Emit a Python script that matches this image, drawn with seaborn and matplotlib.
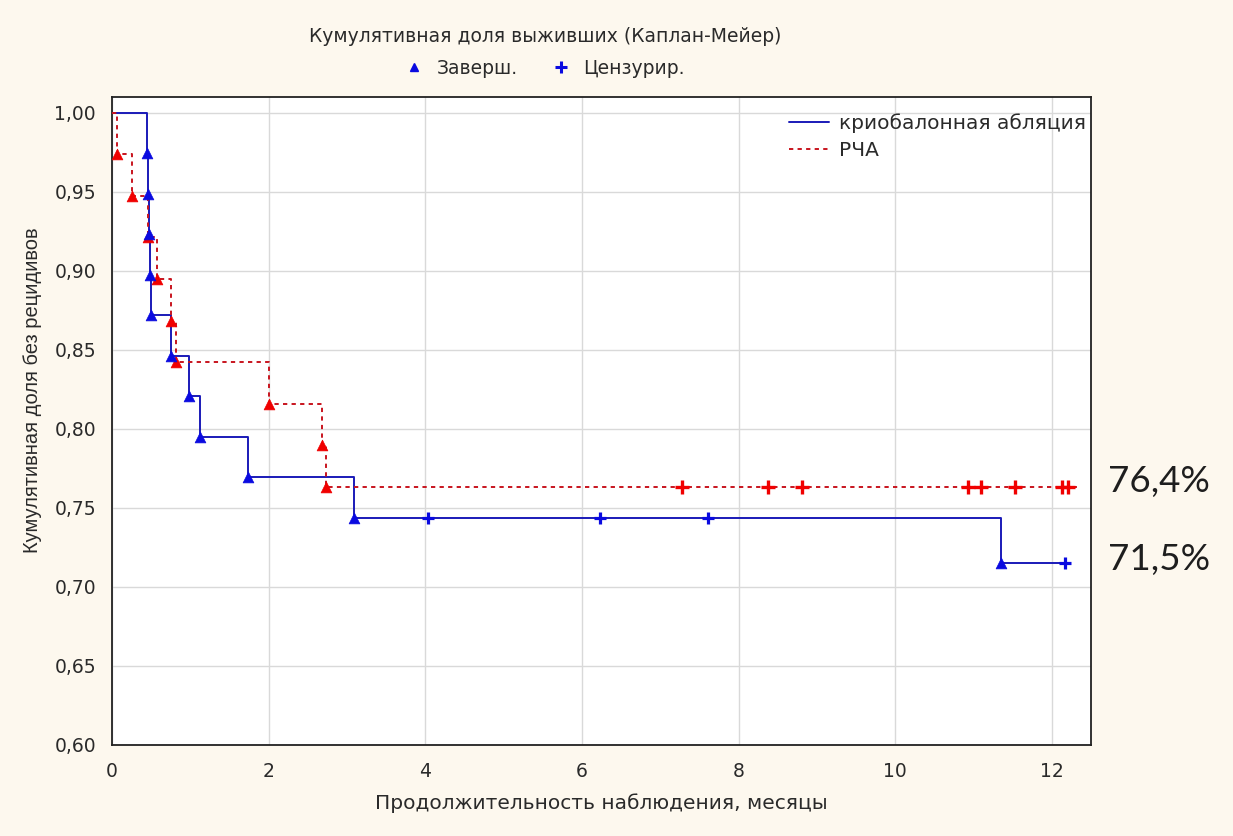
import numpy as np
import pandas as pd
import matplotlib
matplotlib.use("Agg")
import matplotlib.pyplot as plt
from matplotlib.lines import Line2D
import seaborn as sns

# ---------------- data ----------------
cryo_label = "криобалонная абляция"
cryo_n = 39
cryo_event_t = [0.45, 0.46, 0.47, 0.485, 0.50, 0.75, 0.98, 1.12, 1.74, 3.09, 11.35]
cryo_cens_t = [4.04, 6.23, 7.61, 12.17]
cryo_cens_n = [1, 1, 1, 25]
cryo_end = 12.17

rfa_label = "РЧА"
rfa_n = 38
rfa_event_t = [0.06, 0.26, 0.46, 0.57, 0.75, 0.82, 2.00, 2.68, 2.73]
rfa_cens_t = [7.28, 8.37, 8.81, 10.93, 11.09, 11.53, 12.13, 12.20]
rfa_cens_n = [1, 1, 1, 1, 1, 1, 1, 22]
rfa_end = 12.32

final_labels = ["76,4%", "71,5%"]
final_values = [0.764, 0.715]

title = "Кумулятивная доля выживших (Каплан-Мейер)"
legend_marks = ["Заверш.", "Цензурир."]
xlabel = "Продолжительность наблюдения, месяцы"
ylabel = "Кумулятивная доля без рецидивов"
xticks = [0, 2, 4, 6, 8, 10, 12]
yticks = [0.60, 0.65, 0.70, 0.75, 0.80, 0.85, 0.90, 0.95, 1.00]


def km(n, ev, ct, cn):
    """Kaplan-Meier steps from event / censoring times."""
    s = 1.0
    steps = []
    for t in ev:
        dead_before = sum(1 for e in ev if e < t)
        cens_before = sum(c for tt, c in zip(ct, cn) if tt < t)
        at_risk = n - dead_before - cens_before
        s *= 1 - 1 / at_risk
        steps.append((t, s))
    return steps


def s_at(steps, t):
    v = 1.0
    for tt, s in steps:
        if tt <= t:
            v = s
    return v


cryo_steps = km(cryo_n, cryo_event_t, cryo_cens_t, cryo_cens_n)
rfa_steps = km(rfa_n, rfa_event_t, rfa_cens_t, rfa_cens_n)


def path_df(steps, end, name):
    xs = [0.0] + [t for t, _ in steps] + [end]
    ys = [1.0] + [s for _, s in steps] + [steps[-1][1]]
    return pd.DataFrame({"t": xs, "S": ys, "g": name})


# ---------------- style ----------------
sns.set_style("white")
plt.rcParams["font.family"] = ["DejaVu Sans"]

bg = "#fdf8ee"
blue_line = "#1a1ab8"
blue_mark = "#0a0ae0"
red_line = "#c8141e"
red_mark = "#f00000"
txt = "#2a2a2a"

fig = plt.figure(figsize=(12.33, 8.36), dpi=100, facecolor=bg)
W, H = 1233, 836
L, R, T, B = 112, 1091, 97, 745
ax = fig.add_axes([L / W, 1 - B / H, (R - L) / W, (B - T) / H])
ax.set_facecolor("white")

ax.set_xlim(0, 12.5)
ax.set_ylim(0.60, 1.0099)
ax.set_xticks(xticks)
ax.set_yticks(yticks)
ax.set_xticklabels([str(x) for x in xticks])
ax.set_yticklabels([f"{y:.2f}".replace(".", ",") for y in yticks])
ax.grid(True, color="#d9d9d9", lw=1.0)
ax.set_axisbelow(True)
ax.tick_params(direction="in", length=4, width=1, colors="#222222",
               labelcolor=txt, labelsize=13.5)
ax.tick_params(axis="y", pad=11.5)
ax.tick_params(axis="x", pad=12)
for sp in ax.spines.values():
    sp.set_color("#222222")
    sp.set_linewidth(1.3)

# step lines
cdf = path_df(cryo_steps, cryo_end, cryo_label)
rdf = path_df(rfa_steps, rfa_end, rfa_label)
sns.lineplot(data=cdf, x="t", y="S", ax=ax, estimator=None, sort=False,
             drawstyle="steps-post", color=blue_line, lw=1.4, label=cryo_label, zorder=3)
sns.lineplot(data=rdf, x="t", y="S", ax=ax, estimator=None, sort=False,
             drawstyle="steps-post", color=red_line, lw=1.4, dashes=False,
             linestyle=(0, (2.2, 2.2)), label=rfa_label, zorder=3)

# event markers
sns.scatterplot(x=[t for t, _ in cryo_steps], y=[s for _, s in cryo_steps], ax=ax,
                marker="^", s=60, color=blue_mark, edgecolor=blue_mark, linewidth=0.5,
                zorder=5, legend=False)
sns.scatterplot(x=[t for t, _ in rfa_steps], y=[s for _, s in rfa_steps], ax=ax,
                marker="^", s=60, color=red_mark, edgecolor=red_mark, linewidth=0.5,
                zorder=4, legend=False)
# censored markers
sns.scatterplot(x=cryo_cens_t, y=[s_at(cryo_steps, t) for t in cryo_cens_t], ax=ax,
                marker="+", s=85, color=blue_mark, linewidth=2.3, zorder=5, legend=False)
sns.scatterplot(x=rfa_cens_t, y=[s_at(rfa_steps, t) for t in rfa_cens_t], ax=ax,
                marker="+", s=95, color=red_mark, linewidth=2.4, zorder=4, legend=False)

ax.set_xlabel(xlabel, fontsize=14.5, color=txt, labelpad=9)
ax.set_ylabel(ylabel, fontsize=14.5, color=txt, labelpad=9,
              family=["Liberation Sans", "DejaVu Sans"])
ax.yaxis.set_label_coords(-(112 - 33) / (R - L), 1 - (390 - T) / (B - T))
ax.yaxis.label.set_va("center")

leg = ax.legend(loc="upper right", bbox_to_anchor=(1086 / W, 1 - 113 / H),
                bbox_transform=fig.transFigure, frameon=False,
                fontsize=14.5, handlelength=2.0, handletextpad=0.5,
                labelspacing=0.4, borderaxespad=0, borderpad=0)
for t in leg.get_texts():
    t.set_color(txt)

# title and marker legend on top
fig.text(545 / W, 1 - 37 / H, title, ha="center", va="center", fontsize=13.5, color=txt)
mh = [Line2D([], [], ls="none", marker="^", color=blue_mark, markersize=6),
      Line2D([], [], ls="none", marker="+", color=blue_mark, markersize=8, mew=2.2)]
fig.legend(mh, legend_marks, loc="center", bbox_to_anchor=(545 / W, 1 - 68 / H),
           ncol=2, frameon=False, fontsize=13.5, handlelength=1.0, handletextpad=0.7,
           columnspacing=1.8, labelcolor=txt)

# final percentages on the right
for lab, v in zip(final_labels, final_values):
    ax.annotate(lab, xy=(1.0, v), xycoords=("axes fraction", "data"),
                xytext=(12, 3), textcoords="offset points", ha="left", va="center",
                fontsize=26.5, color="#1e1e1e", family=["Lato", "DejaVu Sans"],
                annotation_clip=False)

fig.savefig("out.png", dpi=100, facecolor=bg)
